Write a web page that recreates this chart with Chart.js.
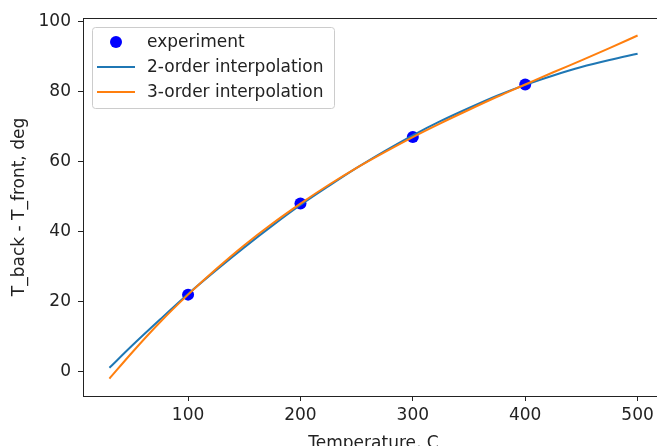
<!DOCTYPE html>
<html>
<head>
<meta charset="utf-8">
<script src="https://cdn.jsdelivr.net/npm/chart.js@4/dist/chart.umd.min.js"></script>
<style>
  html, body { margin: 0; padding: 0; background: #fff; overflow: hidden; }
  #chart { display: block; }
</style>
</head>
<body>
<canvas id="chart" width="670" height="446"></canvas>
<script>
// Measured points
const expX = [100, 200, 300, 400];
const expY = [22, 48, 67, 82];

// Curves
const curveX = [30, 50, 75, 100, 125, 150, 175, 200, 225, 250, 275, 300, 325, 350, 375, 400, 425, 450, 475, 500];
const order2Y = [1.1, 7.4, 14.9, 22.2, 29.0, 35.5, 41.7, 47.6, 53.0, 58.2, 63.0, 67.5, 71.6, 75.3, 78.8, 81.9, 84.6, 87.0, 89.0, 90.8];
const order3Y = [-2.0, 5.4, 14.1, 22.0, 29.3, 36.1, 42.3, 48.0, 53.3, 58.2, 62.7, 67.0, 71.0, 74.8, 78.5, 82.0, 85.5, 88.9, 92.4, 96.0];

const xTicks = [100, 200, 300, 400, 500];
const yTicks = [0, 20, 40, 60, 80, 100];

const FONT = 'DejaVu Sans';
const AXIS = '#222';

const toPts = (xs, ys) => xs.map((x, i) => ({ x: x, y: ys[i] }));

// frame + legend drawn on top of the plot
const framePlugin = {
  id: 'frame',
  afterDraw(chart) {
    const { ctx, chartArea: a } = chart;
    ctx.save();
    ctx.strokeStyle = AXIS;
    ctx.lineWidth = 1;
    ctx.strokeRect(a.left + 0.5, a.top + 0.5, a.right - a.left, a.bottom - a.top);

    // legend box
    const bx = 92, by = 27, bw = 242, bh = 81;
    ctx.fillStyle = 'rgba(255,255,255,0.8)';
    ctx.strokeStyle = '#ccc';
    ctx.beginPath();
    ctx.roundRect(bx + 0.5, by + 0.5, bw, bh, 3);
    ctx.fill();
    ctx.stroke();

    ctx.font = '17px ' + FONT;
    ctx.textBaseline = 'middle';
    const rows = [42, 67, 92];
    chart.data.datasets.forEach((ds, i) => {
      const y = rows[i];
      if (ds.showLine) {
        ctx.strokeStyle = ds.borderColor;
        ctx.lineWidth = 2;
        ctx.beginPath();
        ctx.moveTo(97, y);
        ctx.lineTo(135, y);
        ctx.stroke();
      } else {
        ctx.fillStyle = ds.backgroundColor;
        ctx.beginPath();
        ctx.arc(116, y, 6, 0, Math.PI * 2);
        ctx.fill();
      }
      ctx.fillStyle = '#222';
      ctx.fillText(ds.label, 147, y + 1);
    });
    ctx.restore();
  }
};

new Chart(document.getElementById('chart'), {
  type: 'scatter',
  data: {
    datasets: [
      {
        label: 'experiment',
        data: toPts(expX, expY),
        backgroundColor: '#0000ff',
        borderColor: '#0000ff',
        pointRadius: 6,
        pointBorderWidth: 0,
        showLine: false,
        order: 3
      },
      {
        label: '2-order interpolation',
        data: toPts(curveX, order2Y),
        borderColor: '#1f77b4',
        backgroundColor: '#1f77b4',
        borderWidth: 2,
        pointRadius: 0,
        showLine: true,
        cubicInterpolationMode: 'monotone',
        order: 2
      },
      {
        label: '3-order interpolation',
        data: toPts(curveX, order3Y),
        borderColor: '#ff7f0e',
        backgroundColor: '#ff7f0e',
        borderWidth: 2,
        pointRadius: 0,
        showLine: true,
        cubicInterpolationMode: 'monotone',
        order: 1
      }
    ]
  },
  options: {
    responsive: false,
    animation: false,
    layout: { padding: { top: 18, right: 2, left: 0, bottom: 0 } },
    plugins: {
      legend: { display: false },
      tooltip: { enabled: false }
    },
    scales: {
      x: {
        type: 'linear',
        min: 6.5,
        max: 523.5,
        afterBuildTicks: (s) => { s.ticks = xTicks.map(v => ({ value: v })); },
        afterFit: (s) => { s.height = 50; s.paddingLeft = 0; s.paddingRight = 0; },
        grid: { drawOnChartArea: false, drawTicks: true, tickLength: 5, tickColor: AXIS },
        border: { display: true, color: AXIS, width: 1 },
        ticks: { color: '#222', font: { family: FONT, size: 17 }, padding: 4, maxRotation: 0 },
        title: {
          display: true,
          text: 'Temperature, C',
          color: '#222',
          font: { family: FONT, size: 17, lineHeight: 1 },
          padding: { top: 0, bottom: -6 }
        }
      },
      y: {
        type: 'linear',
        min: -6.95,
        max: 101,
        afterBuildTicks: (s) => { s.ticks = yTicks.map(v => ({ value: v })); },
        afterFit: (s) => { s.width = 83; s.paddingTop = 0; s.paddingBottom = 0; },
        grid: { drawOnChartArea: false, drawTicks: true, tickLength: 5, tickColor: AXIS },
        border: { display: true, color: AXIS, width: 1 },
        ticks: { color: '#222', font: { family: FONT, size: 17 }, padding: 7 },
        title: {
          display: true,
          text: 'T_back - T_front, deg',
          color: '#222',
          font: { family: FONT, size: 17, lineHeight: 1 },
          padding: { top: 11, bottom: 0 }
        }
      }
    }
  },
  plugins: [framePlugin]
});
</script>
</body>
</html>
